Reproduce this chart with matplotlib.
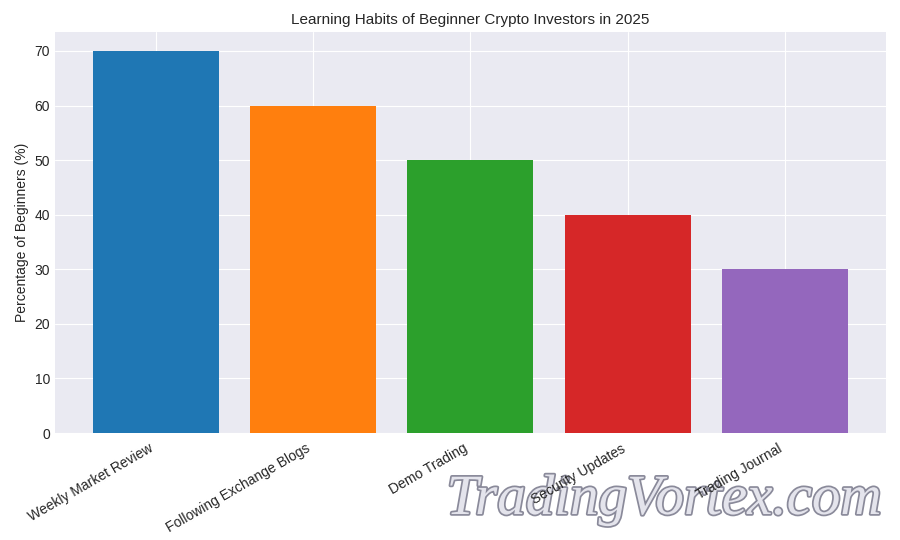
import matplotlib
matplotlib.use("Agg")
import matplotlib.pyplot as plt
import matplotlib.patheffects as pe

habits = ['Weekly Market Review', 'Following Exchange Blogs', 'Demo Trading',
          'Security Updates', 'Trading Journal']
percentages = [70, 60, 50, 40, 30]
bar_colors = ['#1f77b4', '#ff7f0e', '#2ca02c', '#d62728', '#9467bd']

plt.style.use('seaborn-v0_8-darkgrid')
plt.rcParams['font.family'] = ['Liberation Sans', 'DejaVu Sans']

fig, ax = plt.subplots(figsize=(9, 5.4), dpi=100)
ax.bar(habits, percentages, color=bar_colors)

ax.set_title('Learning Habits of Beginner Crypto Investors in 2025', fontsize=11)
ax.set_ylabel('Percentage of Beginners (%)', fontsize=10)
ax.tick_params(axis='x', pad=6)
plt.setp(ax.get_xticklabels(), rotation=30, ha='right')

fig.subplots_adjust(left=0.061, right=0.984, top=0.941, bottom=0.198)

# watermark, kept beneath the tick labels
fig.text(0.738, 0.074, 'TradingVortex.com', fontsize=41, family='Liberation Serif',
         style='italic', color='#e4e4ec', ha='center', va='center', zorder=-1,
         path_effects=[pe.withStroke(linewidth=2.5, foreground='#8a8a9a')])

fig.savefig('out.png', dpi=100)
